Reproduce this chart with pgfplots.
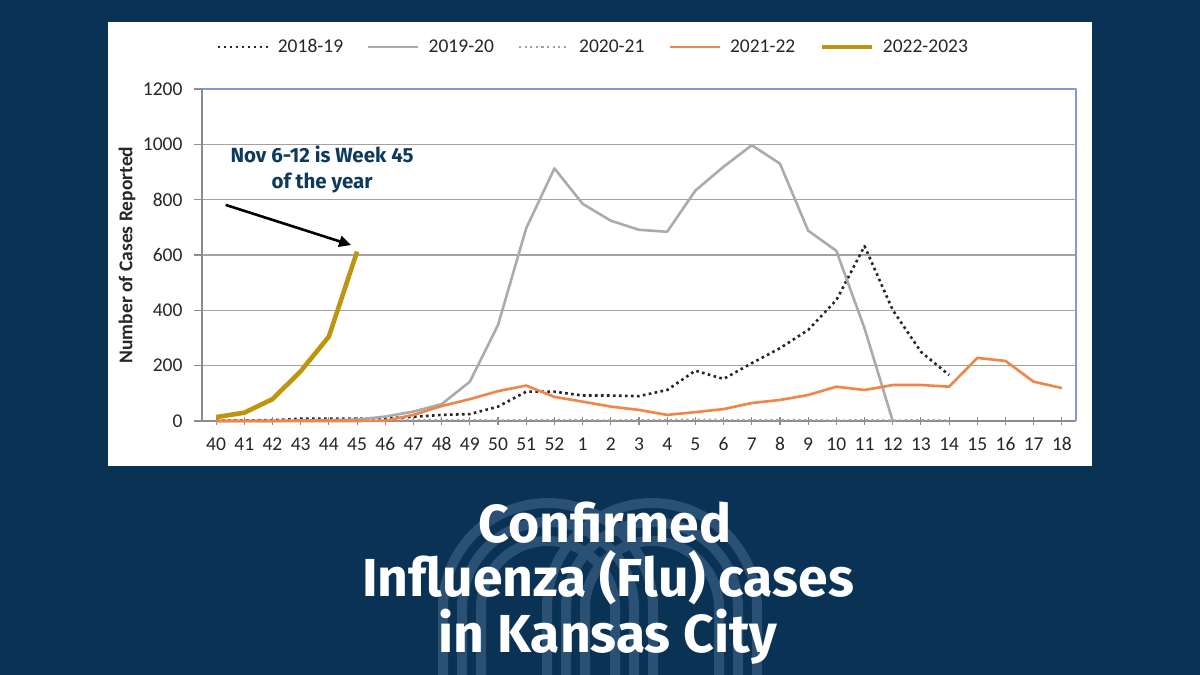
\documentclass[border=0pt]{standalone}
\usepackage{pgfplots}
\pgfplotsset{compat=1.18}
\usepackage{pgfplotstable}
\usepackage{fontspec}
\setmainfont{Carlito}
\newfontfamily\titlefont{Fira Sans}
\usetikzlibrary{arrows.meta}

\definecolor{navy}{HTML}{0A3254}
\definecolor{wmark}{HTML}{2A5173}
\definecolor{annot}{HTML}{0E3A5E}
\definecolor{gridgray}{HTML}{A3A3A3}
\definecolor{axisgray}{HTML}{8C8C8C}
\definecolor{frameblue}{HTML}{7C9CD2}
\definecolor{txt}{HTML}{262626}
\definecolor{sA}{HTML}{262626}
\definecolor{sB}{HTML}{ABABAB}
\definecolor{sC}{HTML}{A0A0A0}
\definecolor{sD}{HTML}{F0854A}
\definecolor{sE}{HTML}{BF950E}

% weeks 40..52 and 1..18 are plotted at positions 0..30
\pgfplotstableread{
i v
0 2
1 2
2 3
3 8
4 8
5 8
6 10
7 15
8 22
9 25
10 52
11 106
12 106
13 92
14 92
15 90
16 112
17 182
18 152
19 209
20 263
21 329
22 437
23 632
24 401
25 250
26 166
}\seasonA
\pgfplotstableread{
i v
0 0
1 0
2 0
3 2
4 3
5 5
6 16
7 34
8 61
9 142
10 347
11 697
12 913
13 785
14 724
15 691
16 684
17 833
18 919
19 997
20 930
21 688
22 615
23 335
24 0
}\seasonB
\pgfplotstableread{
i v
0 2
1 1
2 2
3 3
4 2
5 3
6 2
7 3
8 4
9 3
10 2
11 3
12 4
13 3
14 2
15 3
16 4
17 5
18 4
19 3
20 4
21 3
22 2
23 3
24 2
25 3
26 2
}\seasonC
\pgfplotstableread{
i v
0 0
1 0
2 0
3 0
4 0
5 0
6 1
7 22
8 54
9 79
10 108
11 128
12 87
13 70
14 52
15 40
16 22
17 32
18 43
19 65
20 76
21 94
22 124
23 112
24 130
25 130
26 124
27 228
28 217
29 142
30 119
}\seasonD
\pgfplotstableread{
i v
0 14
1 30
2 79
3 180
4 305
5 612
}\seasonE

\begin{document}
\begin{tikzpicture}[x=1pt,y=1pt]
\useasboundingbox (0,0) rectangle (1200,675);
\fill[navy] (0,0) rectangle (1200,675);

% arch emblem behind the heading
\begin{scope}[draw=wmark, line width=10pt]
  \foreach \cx in {548,652}{
    \foreach \r in {105,86,67}{
      \draw (\cx-\r,-10) -- (\cx-\r,67) arc[start angle=180,end angle=0,radius=\r] -- (\cx+\r,-10);
    }
  }
\end{scope}

% white chart panel
\fill[white] (108,209) rectangle (1092,653);

\begin{axis}[
  at={(202pt,254pt)}, anchor=south west,
  width=874pt, height=332pt, scale only axis,
  xmin=-0.5, xmax=30.5, ymin=0, ymax=1200,
  clip=false,
  xtick={0,...,30},
  xticklabels={40,41,42,43,44,45,46,47,48,49,50,51,52,1,2,3,4,5,6,7,8,9,10,11,12,13,14,15,16,17,18},
  ytick={0,200,400,600,800,1000,1200},
  yticklabels={0,200,400,600,800,1000,1200},
  axis x line*=bottom, axis y line*=left,
  axis line style={draw=axisgray, line width=1.3pt, -},
  ymajorgrids, grid style={draw=gridgray, line width=1.2pt},
  major tick length=8pt,
  xtick align=center, ytick align=outside,
  tick style={draw=axisgray, line width=1.1pt},
  tick label style={font=\fontsize{19.5}{19.5}\selectfont, text=txt},
  xticklabel style={yshift=-9pt},
  yticklabel style={xshift=-8pt},
  /pgf/number format/assume math mode=true,
  every axis y label/.style={at={(axis description cs:-0.0858,0.5)}, rotate=90, anchor=center},
  ylabel={Number of Cases Reported},
  ylabel style={font=\fontsize{19.5}{19.5}\selectfont\bfseries, text=txt},
  legend style={at={(0.4475,1.1265)}, anchor=center, draw=none, fill=none,
    legend columns=5, font=\fontsize{19.5}{19.5}\selectfont, text=txt,
    /tikz/every even column/.append style={column sep=22pt}},
  legend cell align=left,
  legend image code/.code={\draw[#1] (0pt,0pt) -- (50pt,0pt); \path (57pt,0pt);},
  line join=round,
]
\addplot[draw=sA, line width=2.6pt, dash pattern=on 2.6pt off 3.4pt] table[x=i,y=v] {\seasonA};
\addlegendentry{2018-19}
\addplot[draw=sB, line width=2.6pt] table[x=i,y=v] {\seasonB};
\addlegendentry{2019-20}
\addplot[draw=sC, line width=2.2pt, dash pattern=on 2.2pt off 3.4pt] table[x=i,y=v] {\seasonC};
\addlegendentry{2020-21}
\addplot[draw=sD, line width=2.6pt] table[x=i,y=v] {\seasonD};
\addlegendentry{2021-22}
\addplot[draw=sE, line width=4.6pt] table[x=i,y=v] {\seasonE};
\addlegendentry{2022-2023}

% blue frame on the top and right sides
\draw[frameblue, line width=1.4pt] (rel axis cs:0,1) -- (rel axis cs:1,1) -- (rel axis cs:1,0);

% pointer to the latest week
\draw[black, line width=2.6pt, -{Triangle[length=12pt,width=11pt]}] (axis cs:0.34,781) -- (axis cs:4.79,636);
\node[font=\titlefont\bfseries\fontsize{20.5}{20.5}\selectfont, text=annot, anchor=base] at (axis cs:3.76,936) {Nov 6-12 is Week 45};
\node[font=\titlefont\bfseries\fontsize{20.5}{20.5}\selectfont, text=annot, anchor=base] at (axis cs:3.76,842) {of the year};
\end{axis}

% heading
\begin{scope}[every node/.style={font=\titlefont\bfseries\fontsize{53.5}{53.5}\selectfont, text=white, anchor=base, inner sep=0pt}]
  \node at (605,132) {Confirmed};
  \node at (608,78) {Influenza (Flu) cases};
  \node at (608,23) {in Kansas City};
\end{scope}
\end{tikzpicture}
\end{document}
